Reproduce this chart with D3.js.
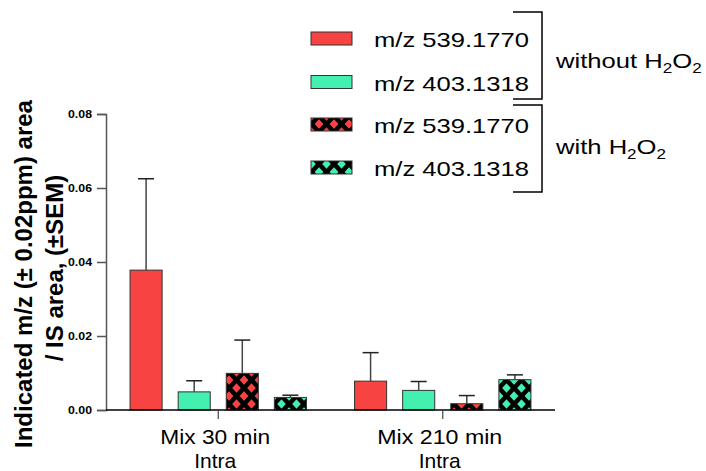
<!DOCTYPE html>
<html>
<head>
<meta charset="utf-8">
<script src="https://cdn.jsdelivr.net/npm/d3@7"></script>
<style>
  html, body { margin: 0; padding: 0; background: #fff; }
  svg { display: block; font-family: "Liberation Sans", Arial, sans-serif; }
</style>
</head>
<body>
<svg id="chart" width="706" height="471"></svg>
<script>
// ---- data ----
const categories = ["Mix 30 min", "Mix 210 min"];
const categorySubLabels = ["Intra", "Intra"];
const seriesKeys = ["r0", "g0", "r1", "g1"];
const seriesLabels = ["m/z 539.1770", "m/z 403.1318", "m/z 539.1770", "m/z 403.1318"];
const red_without = [0.0378, 0.0078];
const green_without = [0.0049, 0.0053];
const red_with = [0.0099, 0.0017];
const green_with = [0.0034, 0.0082];
const red_without_sem = [0.0247, 0.0077];
const green_without_sem = [0.0030, 0.0024];
const red_with_sem = [0.0090, 0.0022];
const green_with_sem = [0.0006, 0.0013];
const yTicks = [0, 0.02, 0.04, 0.06, 0.08];
const groupLabels = ["without", "with"];

const RED = "#f84343", GREEN = "#44f0b0";
const seriesStyle = {
  r0: { fill: RED, pattern: false },
  g0: { fill: GREEN, pattern: false },
  r1: { fill: RED, pattern: true },
  g1: { fill: GREEN, pattern: true }
};
const seriesValues = { r0: red_without, g0: green_without, r1: red_with, g1: green_with };
const seriesSem = { r0: red_without_sem, g0: green_without_sem, r1: red_with_sem, g1: green_with_sem };

const rows = [];
categories.forEach((c, i) => {
  seriesKeys.forEach(k => rows.push({ cat: c, key: k, value: seriesValues[k][i], sem: seriesSem[k][i] }));
});

const svg = d3.select("#chart");
const defs = svg.append("defs");

// cross-hatch patterns
function makePattern(id, color) {
  const w = 15, h = 16;
  const p = defs.append("pattern").attr("id", id)
    .attr("patternUnits", "userSpaceOnUse")
    .attr("width", w).attr("height", h)
    .attr("x", 229).attr("y", 372);
  p.append("rect").attr("width", w).attr("height", h).attr("fill", color);
  const seg = [];
  for (let k = -1; k <= 1; k++) seg.push(`M${-w},${(k - 1) * h} L${2 * w},${(k + 2) * h}`);
  for (let k = 0; k <= 2; k++) seg.push(`M${-w},${(k + 1) * h} L${2 * w},${(k - 2) * h}`);
  p.append("path").attr("d", seg.join(" ")).attr("stroke", "#000").attr("stroke-width", 4.6).attr("fill", "none");
}
makePattern("patRed", RED);
makePattern("patGreen", GREEN);
function fillOf(k) {
  const s = seriesStyle[k];
  if (!s.pattern) return s.fill;
  return s.fill === RED ? "url(#patRed)" : "url(#patGreen)";
}

// scales
const x0 = d3.scaleBand().domain(categories).range([106, 555]).paddingInner(0).paddingOuter(0);
const x1 = d3.scaleBand().domain(seriesKeys).range([0, x0.bandwidth()]).paddingInner(1 / 3).paddingOuter(0.5);
const y = d3.scaleLinear().domain([0, 0.08]).range([410, 114]);

// bars
const g = svg.append("g");
g.selectAll("rect.bar").data(rows).enter().append("rect")
  .attr("class", "bar")
  .attr("x", d => x0(d.cat) + x1(d.key))
  .attr("y", d => y(d.value))
  .attr("width", x1.bandwidth())
  .attr("height", d => y(0) - y(d.value))
  .attr("fill", d => fillOf(d.key))
  .attr("stroke", "#333").attr("stroke-width", 1);

// error bars (upper only)
const eb = g.selectAll("g.err").data(rows).enter().append("g").attr("class", "err");
eb.append("line")
  .attr("x1", d => x0(d.cat) + x1(d.key) + x1.bandwidth() / 2)
  .attr("x2", d => x0(d.cat) + x1(d.key) + x1.bandwidth() / 2)
  .attr("y1", d => y(d.value))
  .attr("y2", d => y(d.value + d.sem))
  .attr("stroke", "#444").attr("stroke-width", 1.5);
eb.append("line")
  .attr("x1", d => x0(d.cat) + x1(d.key) + x1.bandwidth() / 2 - 8)
  .attr("x2", d => x0(d.cat) + x1(d.key) + x1.bandwidth() / 2 + 8)
  .attr("y1", d => y(d.value + d.sem))
  .attr("y2", d => y(d.value + d.sem))
  .attr("stroke", "#222").attr("stroke-width", 1.5);

// y axis
const yAxis = svg.append("g").attr("transform", "translate(106,0)")
  .call(d3.axisLeft(y).tickValues(yTicks).tickFormat(d3.format(".2f")).tickSize(9).tickPadding(5));
yAxis.select(".domain").attr("stroke", "#555").attr("stroke-width", 1.5);
yAxis.selectAll(".tick line").attr("stroke", "#555").attr("stroke-width", 1.5);
yAxis.selectAll(".tick text")
  .attr("font-family", "'Liberation Sans', Arial, sans-serif")
  .attr("font-size", 10).attr("font-weight", "bold").attr("fill", "#000")
  .attr("textLength", 24).attr("lengthAdjust", "spacingAndGlyphs");

// x axis
const xAxis = svg.append("g").attr("transform", "translate(0,410)")
  .call(d3.axisBottom(x0).tickSize(9).tickFormat(""));
xAxis.select(".domain").attr("stroke", "#000").attr("stroke-width", 1.5).attr("d", "M106,0H555");
xAxis.selectAll(".tick line").attr("stroke", "#444").attr("stroke-width", 1.2);
xAxis.selectAll(".tick text").remove();
const catLen = { "Mix 30 min": 110, "Mix 210 min": 125 };
categories.forEach((c, i) => {
  const cx = x0(c) + x0.bandwidth() / 2 - 3;
  svg.append("text").attr("x", cx).attr("y", 444).attr("text-anchor", "middle")
    .attr("font-size", 21).attr("textLength", catLen[c]).attr("lengthAdjust", "spacingAndGlyphs").text(c);
  svg.append("text").attr("x", cx).attr("y", 468).attr("text-anchor", "middle")
    .attr("font-size", 21).text(categorySubLabels[i]);
});

// y title
svg.append("text").attr("transform", "translate(32,274) rotate(-90)")
  .attr("text-anchor", "middle").attr("font-size", 24).attr("font-weight", "bold")
  .text("Indicated m/z (± 0.02ppm) area");
svg.append("text").attr("transform", "translate(63,268) rotate(-90)")
  .attr("text-anchor", "middle").attr("font-size", 24).attr("font-weight", "bold")
  .text("/ IS area, (±SEM)");

// legend
const legY = [32, 75.5, 118, 161];
const leg = svg.append("g");
seriesKeys.forEach((k, i) => {
  leg.append("rect").attr("x", 311).attr("y", legY[i]).attr("width", 41).attr("height", 13)
    .attr("fill", fillOf(k)).attr("stroke", "#333").attr("stroke-width", 1);
  leg.append("text").attr("x", 374).attr("y", legY[i] + 15.3)
    .attr("font-size", 21).attr("textLength", 155).attr("lengthAdjust", "spacingAndGlyphs")
    .text(seriesLabels[i]);
});
// brackets
[[12, 99], [105, 192]].forEach(([t, b]) => {
  leg.append("path").attr("d", `M513,${t}H542V${b}H513`).attr("fill", "none")
    .attr("stroke", "#000").attr("stroke-width", 1.5);
});
function h2o2Label(prefix, yb) {
  const t = leg.append("text").attr("x", 556).attr("y", yb).attr("font-size", 21);
  t.append("tspan").text(prefix + " H");
  t.append("tspan").attr("font-size", 14).attr("dy", 5).text("2");
  t.append("tspan").attr("dy", -5).text("O");
  t.append("tspan").attr("font-size", 14).attr("dy", 5).text("2");
  return t;
}
const t1 = h2o2Label(groupLabels[0], 68.5);
const t2 = h2o2Label(groupLabels[1], 154.5);
[t1, t2].forEach(t => {
  t.attr("transform", `translate(556,0) scale(1.22,1) translate(-556,0)`);
});
</script>
</body>
</html>
